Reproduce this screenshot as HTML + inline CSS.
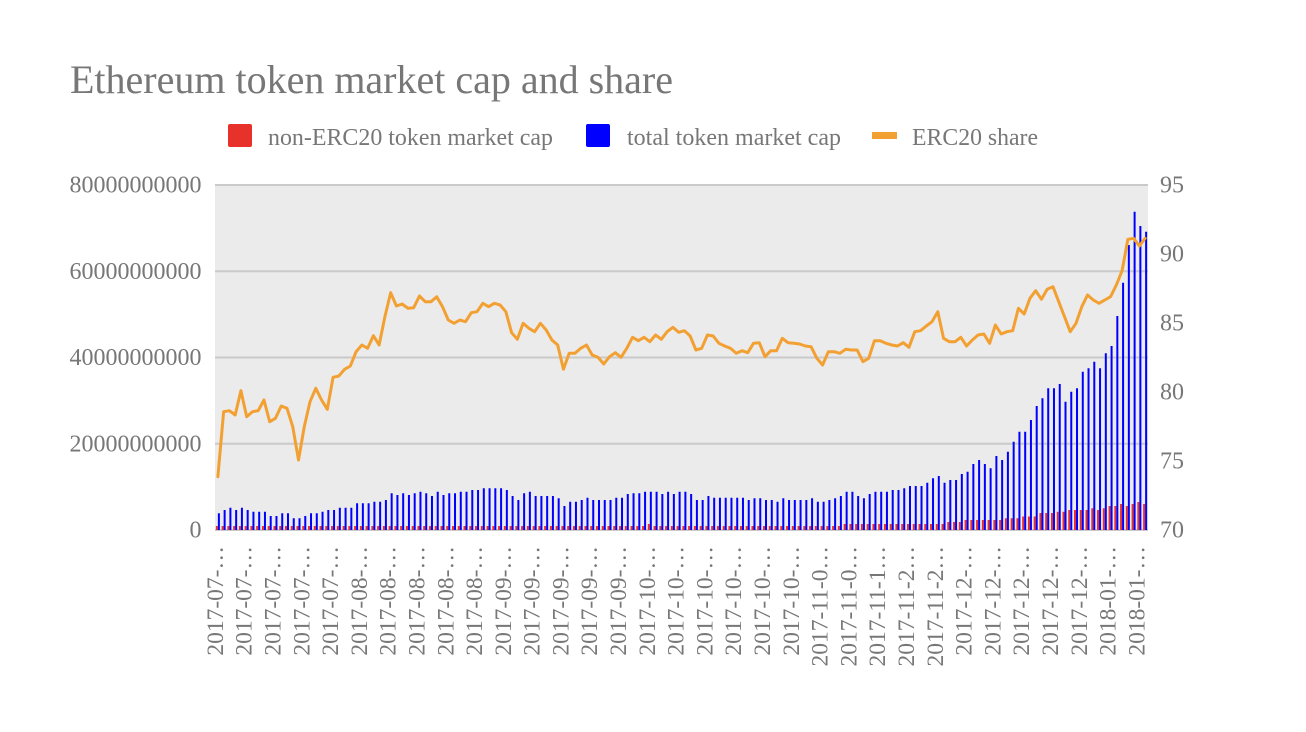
<!DOCTYPE html>
<html><head><meta charset="utf-8">
<style>html,body{margin:0;padding:0;background:#fff;width:1306px;height:732px;overflow:hidden}</style>
</head><body>
<svg width="1306" height="732" viewBox="0 0 1306 732" xmlns="http://www.w3.org/2000/svg">
<rect x="0" y="0" width="1306" height="732" fill="#ffffff"/>
<g font-family="'Liberation Serif', 'Times New Roman', serif" fill="#777777">
<text x="70" y="93" font-size="40" textLength="603" lengthAdjust="spacingAndGlyphs">Ethereum token market cap and share</text>
<text x="268" y="145" font-size="24" textLength="285" lengthAdjust="spacingAndGlyphs">non-ERC20 token market cap</text>
<text x="627" y="145" font-size="24" textLength="214" lengthAdjust="spacingAndGlyphs">total token market cap</text>
<text x="912" y="145" font-size="24" textLength="126" lengthAdjust="spacingAndGlyphs">ERC20 share</text>
</g>
<rect x="228" y="124" width="24" height="23" rx="2" fill="#e8312a"/>
<rect x="586" y="124" width="24" height="23" rx="2" fill="#0000ff"/>
<rect x="872" y="132" width="25" height="7" fill="#f3a033"/>

<rect x="215" y="185" width="933" height="345" fill="#ebebeb"/>
<g stroke="#cacaca" stroke-width="2">
<line x1="215" y1="185" x2="1148" y2="185"/>
<line x1="215" y1="271.25" x2="1148" y2="271.25"/>
<line x1="215" y1="357.5" x2="1148" y2="357.5"/>
<line x1="215" y1="443.75" x2="1148" y2="443.75"/>
<line x1="215" y1="530" x2="1148" y2="530"/>
</g>

<g font-family="'Liberation Serif', 'Times New Roman', serif" fill="#777777" font-size="24">
<g text-anchor="end">
<text x="201.5" y="192.5">80000000000</text>
<text x="201.5" y="278.8">60000000000</text>
<text x="201.5" y="365">40000000000</text>
<text x="201.5" y="451.3">20000000000</text>
<text x="201.5" y="537.5">0</text>
</g>
<text x="1160" y="192.5">95</text>
<text x="1160" y="261.5">90</text>
<text x="1160" y="330.5">85</text>
<text x="1160" y="399.5">80</text>
<text x="1160" y="468.5">75</text>
<text x="1160" y="537.5">70</text>
</g>

<path transform="translate(216.88 0) scale(5.7593 1)" fill="none" stroke="#e8312a" stroke-width="0.3473" d="M0 530V526M1 530V526M2 530V526M3 530V526M4 530V526M5 530V526M6 530V526M7 530V526M8 530V526M9 530V526M10 530V526M11 530V526M12 530V526M13 530V526M14 530V526M15 530V526M16 530V526M17 530V526M18 530V526M19 530V526M20 530V526M21 530V526M22 530V526M23 530V526M24 530V526M25 530V526M26 530V526M27 530V526M28 530V526M29 530V526M30 530V526M31 530V526M32 530V526M33 530V526M34 530V526M35 530V526M36 530V526M37 530V526M38 530V526M39 530V526M40 530V526M41 530V526M42 530V526M43 530V526M44 530V526M45 530V526M46 530V526M47 530V526M48 530V526M49 530V526M50 530V526M51 530V526M52 530V526M53 530V526M54 530V526M55 530V526M56 530V526M57 530V526M58 530V526M59 530V526M60 530V526M61 530V526M62 530V526M63 530V526M64 530V526M65 530V526M66 530V526M67 530V526M68 530V526M69 530V526M70 530V526M71 530V526M72 530V526M73 530V526M74 530V526M75 530V524M76 530V526M77 530V526M78 530V526M79 530V526M80 530V526M81 530V526M82 530V526M83 530V526M84 530V526M85 530V526M86 530V526M87 530V526M88 530V526M89 530V526M90 530V526M91 530V526M92 530V526M93 530V526M94 530V526M95 530V526M96 530V526M97 530V526M98 530V526M99 530V526M100 530V526M101 530V526M102 530V526M103 530V526M104 530V526M105 530V526M106 530V526M107 530V526M108 530V526M109 530V524M110 530V524M111 530V524M112 530V524M113 530V524M114 530V524M115 530V524M116 530V524M117 530V524M118 530V524M119 530V524M120 530V524M121 530V524M122 530V524M123 530V524M124 530V524M125 530V524M126 530V524M127 530V522M128 530V522M129 530V522M130 530V520M131 530V520M132 530V520M133 530V520M134 530V520M135 530V520M136 530V520M137 530V518.3M138 530V518.3M139 530V518.3M140 530V516.5M141 530V516.5M142 530V516.5M143 530V513M144 530V513M145 530V513M146 530V511.7M147 530V511.7M148 530V510M149 530V510M150 530V510M151 530V510M152 530V508.3M153 530V510M154 530V508.3M155 530V506M156 530V506M157 530V504M158 530V506M159 530V504M160 530V502M161 530V504"/>

<path transform="translate(218.88 0) scale(5.7593 1)" fill="none" stroke="#0000ff" stroke-width="0.3473" d="M0 530V513.3M1 530V510M2 530V507.7M3 530V510M4 530V507.7M5 530V510M6 530V511.7M7 530V511.7M8 530V511.7M9 530V516M10 530V516M11 530V513.3M12 530V513.3M13 530V518.3M14 530V518.3M15 530V516M16 530V513.3M17 530V513.3M18 530V511.7M19 530V510M20 530V510M21 530V507.7M22 530V507.7M23 530V507.7M24 530V503.3M25 530V503.3M26 530V503.3M27 530V501.7M28 530V501.7M29 530V500M30 530V493.3M31 530V495M32 530V493.3M33 530V495M34 530V493.3M35 530V491.7M36 530V493.3M37 530V496M38 530V491.7M39 530V495M40 530V493.3M41 530V493.3M42 530V491.7M43 530V491.7M44 530V490M45 530V490M46 530V488.3M47 530V488.3M48 530V488.3M49 530V488.3M50 530V490M51 530V496M52 530V500M53 530V493.3M54 530V491.7M55 530V496M56 530V496M57 530V496M58 530V496M59 530V498.3M60 530V506M61 530V501.7M62 530V501.7M63 530V500M64 530V497.7M65 530V500M66 530V500M67 530V500M68 530V500M69 530V497.7M70 530V497.7M71 530V494M72 530V493.3M73 530V493.3M74 530V491.7M75 530V491.7M76 530V491.7M77 530V494M78 530V491.7M79 530V494M80 530V491.7M81 530V491.7M82 530V494M83 530V500M84 530V500M85 530V496M86 530V497.7M87 530V497.7M88 530V497.7M89 530V497.7M90 530V497.7M91 530V497.7M92 530V500M93 530V498.3M94 530V498.3M95 530V500M96 530V500M97 530V501.7M98 530V498.3M99 530V500M100 530V500M101 530V500M102 530V500M103 530V498.3M104 530V501.7M105 530V501.7M106 530V500M107 530V498.3M108 530V496M109 530V491.7M110 530V491.7M111 530V496M112 530V498.3M113 530V494M114 530V491.7M115 530V491.7M116 530V491.7M117 530V490M118 530V490M119 530V488.3M120 530V486M121 530V486M122 530V486M123 530V482.7M124 530V478.3M125 530V476M126 530V482.7M127 530V480M128 530V480M129 530V474M130 530V471.7M131 530V464M132 530V460M133 530V464M134 530V468.3M135 530V456M136 530V460M137 530V451.7M138 530V441.7M139 530V431.7M140 530V431.7M141 530V420M142 530V406M143 530V398.3M144 530V388.3M145 530V388.3M146 530V384M147 530V401.7M148 530V391.7M149 530V388.3M150 530V371.7M151 530V368.3M152 530V361.7M153 530V368.3M154 530V353.3M155 530V346M156 530V316M157 530V282.7M158 530V245M159 530V211.7M160 530V226M161 530V231.7"/>

<polyline transform="translate(217.88 0) scale(5.7593 1)" fill="none" stroke="#f3a033" stroke-width="3" vector-effect="non-scaling-stroke" stroke-linejoin="round" stroke-linecap="round" points="0,476.7 1,411.7 2,410.7 3,415 4,390.7 5,416.7 6,411.7 7,410.7 8,400 9,421.7 10,418.3 11,406 12,408.3 13,426.7 14,460 15,426.7 16,401.7 17,388.3 18,400 19,409.3 20,377.3 21,376 22,369.3 23,366 24,351.7 25,345 26,348.3 27,335.7 28,345 29,316.7 30,292.7 31,306 32,304 33,308.3 34,307.7 35,296 36,301.7 37,301.7 38,296.7 39,306.7 40,320 41,323.3 42,320 43,321.7 44,312.7 45,311.7 46,303.3 47,306.7 48,303.3 49,305 50,311.7 51,332.7 52,339.3 53,323.3 54,328.3 55,331.7 56,323.3 57,330 58,340 59,345 60,369.3 61,353.3 62,353.3 63,348.3 64,345 65,355 66,357.3 67,364 68,356.7 69,352.7 70,357.3 71,348.3 72,337.3 73,340.7 74,337.3 75,341.7 76,335 77,339.3 78,331.7 79,327.3 80,332.3 81,330.7 82,336 83,350 84,348.3 85,335 86,336 87,343.3 88,346 89,348.3 90,353.3 91,350.7 92,352.7 93,343.3 94,342.7 95,356.7 96,350.7 97,350.7 98,338.3 99,342.7 100,343.3 101,344 102,346 103,346.7 104,358.3 105,365 106,351.7 107,351.7 108,353.3 109,349.3 110,350 111,350 112,361.7 113,358.3 114,340.7 115,340.7 116,343.3 117,345 118,346 119,342.7 120,347.3 121,331.7 122,330.7 123,326 124,321.7 125,311.7 126,338.3 127,341.7 128,341.7 129,337.3 130,346 131,340 132,335 133,334 134,343.3 135,325 136,334 137,331.7 138,330.7 139,308.3 140,314 141,298.3 142,290.7 143,299.3 144,289.3 145,286.7 146,301.7 147,316.7 148,331.7 149,323.3 150,306.7 151,295 152,300 153,303.3 154,300 155,296.7 156,285 157,270.7 158,239.3 159,238.3 160,246 161,238.3"/>

<g font-family="'Liberation Serif', 'Times New Roman', serif" fill="#777777" font-size="23.5" text-anchor="end">
<text transform="translate(222.9 546) rotate(-90)">2017-07-…</text>
<text transform="translate(251.7 546) rotate(-90)">2017-07-…</text>
<text transform="translate(280.5 546) rotate(-90)">2017-07-…</text>
<text transform="translate(309.3 546) rotate(-90)">2017-07-…</text>
<text transform="translate(338.1 546) rotate(-90)">2017-07-…</text>
<text transform="translate(366.9 546) rotate(-90)">2017-08-…</text>
<text transform="translate(395.7 546) rotate(-90)">2017-08-…</text>
<text transform="translate(424.5 546) rotate(-90)">2017-08-…</text>
<text transform="translate(453.3 546) rotate(-90)">2017-08-…</text>
<text transform="translate(482.1 546) rotate(-90)">2017-08-…</text>
<text transform="translate(510.8 546) rotate(-90)">2017-09-…</text>
<text transform="translate(539.6 546) rotate(-90)">2017-09-…</text>
<text transform="translate(568.4 546) rotate(-90)">2017-09-…</text>
<text transform="translate(597.2 546) rotate(-90)">2017-09-…</text>
<text transform="translate(626 546) rotate(-90)">2017-09-…</text>
<text transform="translate(654.8 546) rotate(-90)">2017-10-…</text>
<text transform="translate(683.6 546) rotate(-90)">2017-10-…</text>
<text transform="translate(712.4 546) rotate(-90)">2017-10-…</text>
<text transform="translate(741.2 546) rotate(-90)">2017-10-…</text>
<text transform="translate(770 546) rotate(-90)">2017-10-…</text>
<text transform="translate(798.8 546) rotate(-90)">2017-10-…</text>
<text transform="translate(827.6 546) rotate(-90)">2017-11-0…</text>
<text transform="translate(856.4 546) rotate(-90)">2017-11-0…</text>
<text transform="translate(885.2 546) rotate(-90)">2017-11-1…</text>
<text transform="translate(914 546) rotate(-90)">2017-11-2…</text>
<text transform="translate(942.8 546) rotate(-90)">2017-11-2…</text>
<text transform="translate(971.6 546) rotate(-90)">2017-12-…</text>
<text transform="translate(1000.4 546) rotate(-90)">2017-12-…</text>
<text transform="translate(1029.2 546) rotate(-90)">2017-12-…</text>
<text transform="translate(1058 546) rotate(-90)">2017-12-…</text>
<text transform="translate(1086.8 546) rotate(-90)">2017-12-…</text>
<text transform="translate(1115.6 546) rotate(-90)">2018-01-…</text>
<text transform="translate(1144.4 546) rotate(-90)">2018-01-…</text>
</g>
</svg>
</body></html>
